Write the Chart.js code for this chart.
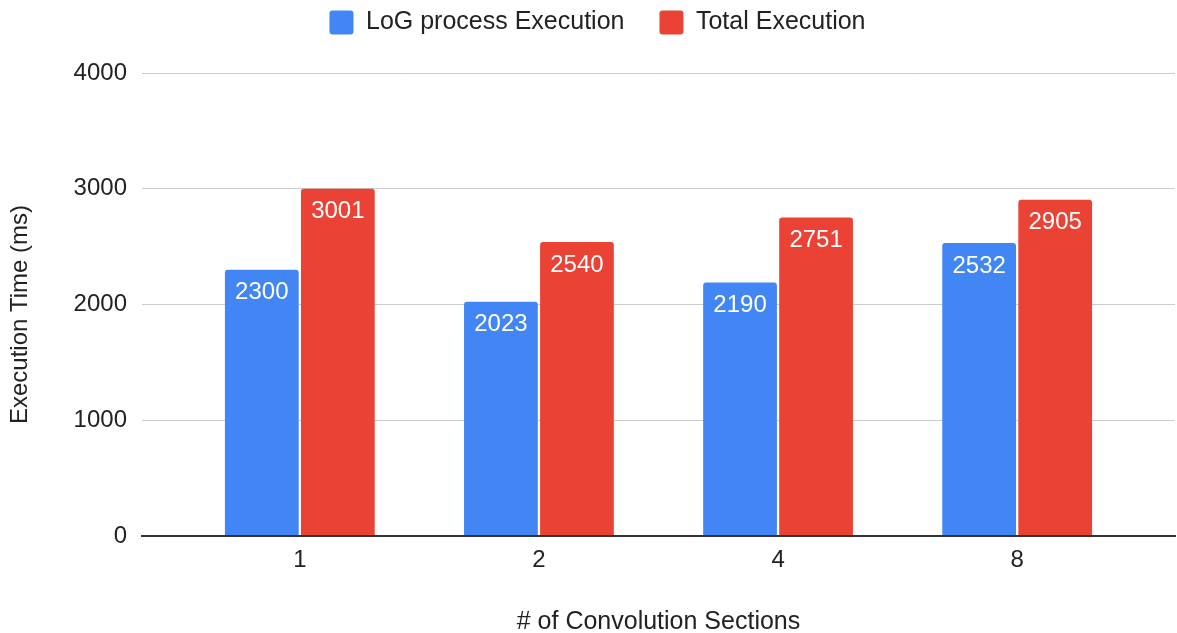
<!DOCTYPE html>
<html>
<head>
<meta charset="utf-8">
<script src="https://cdn.jsdelivr.net/npm/chart.js@4.4.1/dist/chart.umd.min.js"></script>
<style>
  html, body { margin: 0; padding: 0; background: #ffffff; }
  #wrap { width: 1177px; height: 633px; }
</style>
</head>
<body>
<div id="wrap"><canvas id="chart" width="1177" height="633"></canvas></div>
<script>
// Convolution section counts and their measured execution times (ms)
const sections = ['1', '2', '4', '8'];
const logProcessTimes = [2300, 2023, 2190, 2532];
const totalTimes = [3001, 2540, 2751, 2905];
const yTicks = [0, 1000, 2000, 3000, 4000];
const yTitle = 'Execution Time (ms)';
const xTitle = '# of Convolution Sections';

const FONT = "'Liberation Sans', Arial, sans-serif";
const BLUE = '#4285F4';
const RED = '#EA4335';
const TEXT = '#222222';

// Each category sits at an integer position on a linear x scale
const toPoints = vals => vals.map((v, i) => ({ x: i, y: v }));

// White value labels drawn just inside the top of each bar
const barValueLabels = {
  id: 'barValueLabels',
  afterDatasetsDraw(chart) {
    const ctx = chart.ctx;
    ctx.save();
    ctx.font = '24px ' + FONT;
    ctx.fillStyle = '#ffffff';
    ctx.textAlign = 'center';
    ctx.textBaseline = 'middle';
    chart.data.datasets.forEach((ds, di) => {
      const meta = chart.getDatasetMeta(di);
      meta.data.forEach((bar, i) => {
        ctx.fillText(String(ds.data[i].y), bar.x, bar.y + 23);
      });
    });
    ctx.restore();
  }
};

// Vertical axis title, centred on the full canvas height
const verticalTitle = {
  id: 'verticalTitle',
  afterDraw(chart) {
    const ctx = chart.ctx;
    ctx.save();
    ctx.translate(20, chart.height / 2 - 2);
    ctx.rotate(-Math.PI / 2);
    ctx.font = '24px ' + FONT;
    ctx.fillStyle = TEXT;
    ctx.textAlign = 'center';
    ctx.textBaseline = 'middle';
    ctx.fillText(yTitle, 0, 0);
    ctx.restore();
  }
};

// Reserve a fixed band at the top for the legend and place it within that band
const legendBand = {
  id: 'legendBand',
  beforeInit(chart) {
    const fit = chart.legend.fit;
    chart.legend.fit = function () {
      fit.call(this);
      this.height = 73;
    };
  },
  afterLayout(chart) {
    const lg = chart.legend;
    lg.left += 10;
    lg.right += 10;
    lg.top -= 25;
    lg.bottom -= 25;
  }
};

new Chart(document.getElementById('chart'), {
  type: 'bar',
  data: {
    datasets: [
      {
        label: 'LoG process Execution',
        data: toPoints(logProcessTimes),
        backgroundColor: BLUE,
        borderRadius: { topLeft: 3, topRight: 3 },
        borderSkipped: 'bottom',
        categoryPercentage: 0.636,
        barPercentage: 0.97
      },
      {
        label: 'Total Execution',
        data: toPoints(totalTimes),
        backgroundColor: RED,
        borderRadius: { topLeft: 3, topRight: 3 },
        borderSkipped: 'bottom',
        categoryPercentage: 0.636,
        barPercentage: 0.97
      }
    ]
  },
  options: {
    responsive: false,
    animation: false,
    devicePixelRatio: 1,
    layout: { padding: { left: 0, right: 2, top: 0, bottom: 0 } },
    plugins: {
      legend: {
        position: 'top',
        labels: {
          font: { family: FONT, size: 25 },
          color: TEXT,
          boxWidth: 24,
          boxHeight: 24,
          useBorderRadius: true,
          borderRadius: 3,
          padding: 35
        }
      },
      tooltip: { enabled: false }
    },
    scales: {
      x: {
        type: 'linear',
        min: -0.66,
        max: 3.66,
        offset: false,
        grid: { display: false },
        border: { display: true, color: '#333333', width: 2 },
        afterBuildTicks(scale) {
          scale.ticks = sections.map((_, i) => ({ value: i }));
        },
        afterFit(scale) { scale.height = 97; },
        ticks: {
          autoSkip: false,
          maxRotation: 0,
          padding: 2,
          color: TEXT,
          font: { family: FONT, size: 24 },
          callback: v => sections[v]
        },
        title: {
          display: true,
          text: xTitle,
          color: TEXT,
          font: { family: FONT, size: 25, lineHeight: 0.85 },
          padding: { top: 0, bottom: 0 }
        }
      },
      y: {
        min: 0,
        max: 4000,
        afterBuildTicks(scale) {
          scale.ticks = yTicks.map(v => ({ value: v }));
        },
        afterFit(scale) { scale.width = 142; },
        grid: {
          color: ctx => (ctx.tick && ctx.tick.value === 0) ? '#333333' : '#cccccc',
          lineWidth: ctx => (ctx.tick && ctx.tick.value === 0) ? 2 : 1,
          drawTicks: false
        },
        border: { display: false },
        ticks: {
          padding: 15,
          color: TEXT,
          font: { family: FONT, size: 24 },
          callback: v => String(v)
        },
        title: { display: false }
      }
    }
  },
  plugins: [legendBand, barValueLabels, verticalTitle]
});
</script>
</body>
</html>
